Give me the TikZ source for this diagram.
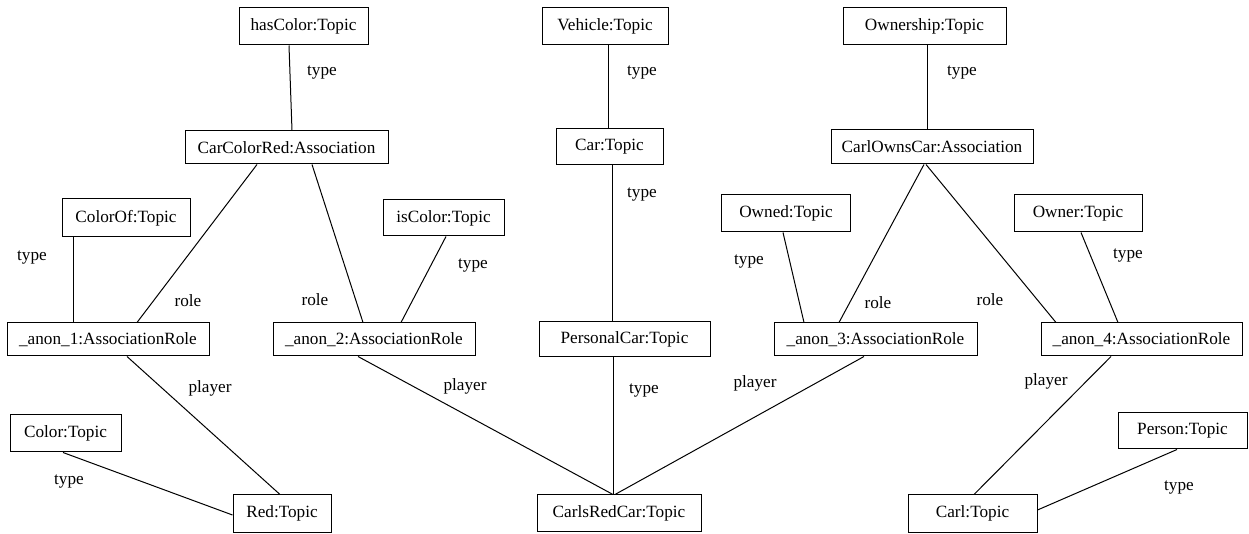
\documentclass[tikz,border=0pt]{standalone}
\usepackage{fontspec}
\setmainfont{Liberation Serif}
\usepackage{tikz}
\usetikzlibrary{calc}

\tikzset{
  obj/.style={draw,rectangle,line width=0.5pt,inner sep=0pt,font=\fontsize{8.6pt}{10pt}\selectfont},
  rel/.style={line width=0.5pt},
  lbl/.style={inner sep=0pt,yshift=-1.5pt,font=\fontsize{8.6pt}{10pt}\selectfont}
}

\begin{document}
\begin{tikzpicture}[x=0.5pt,y=-0.5pt]
\useasboundingbox (0,0) rectangle (1249,534);
% topics and associations
\node[obj,minimum width=64.5pt,minimum height=18.5pt] (hasColor) at (303.5,26.5) {hasColor:Topic};
\node[obj,minimum width=63pt,minimum height=18.5pt] (vehicle) at (605,26.5) {Vehicle:Topic};
\node[obj,minimum width=81.5pt,minimum height=18.5pt] (ownership) at (924.5,26.5) {Ownership:Topic};
\node[obj,minimum width=101.5pt,minimum height=16.5pt] (carColorRed) at (286.5,147.5) {CarColorRed:Association};
\node[obj,minimum width=53.5pt,minimum height=18pt] (car) at (609.5,147) {Car:Topic};
\node[obj,minimum width=101pt,minimum height=17pt] (carlOwnsCar) at (932,147) {CarlOwnsCar:Association};
\node[obj,minimum width=64pt,minimum height=19pt] (colorOf) at (126,218) {ColorOf:Topic};
\node[obj,minimum width=60.5pt,minimum height=18pt] (isColor) at (443.5,218) {isColor:Topic};
\node[obj,minimum width=64.5pt,minimum height=18.5pt] (owned) at (786,213.5) {Owned:Topic};
\node[obj,minimum width=64pt,minimum height=18.5pt] (owner) at (1078,213.5) {Owner:Topic};
% association roles
\node[obj,minimum width=101pt,minimum height=16.5pt] (anon1) at (108,339.5) {\_anon\_1:AssociationRole};
\node[obj,minimum width=101pt,minimum height=16.5pt] (anon2) at (374,339.5) {\_anon\_2:AssociationRole};
\node[obj,minimum width=85.5pt,minimum height=17.5pt] (personalCar) at (624.5,339.5) {PersonalCar:Topic};
\node[obj,minimum width=101.5pt,minimum height=16.5pt] (anon3) at (875.5,339.5) {\_anon\_3:AssociationRole};
\node[obj,minimum width=100.5pt,minimum height=16.5pt] (anon4) at (1141.5,339.5) {\_anon\_4:AssociationRole};
% players
\node[obj,minimum width=55.5pt,minimum height=18.5pt] (color) at (65.5,433.5) {Color:Topic};
\node[obj,minimum width=49pt,minimum height=18.5pt] (red) at (282,513.5) {Red:Topic};
\node[obj,minimum width=82pt,minimum height=18pt] (carlsRedCar) at (619,513) {CarlsRedCar:Topic};
\node[obj,minimum width=64.5pt,minimum height=18.5pt] (carl) at (972.5,513.5) {Carl:Topic};
\node[obj,minimum width=64.5pt,minimum height=18pt] (person) at (1182.5,431) {Person:Topic};

% links
\draw[rel] ($(hasColor.south)+(-14.5,0)$) -- ($(carColorRed.north)+(5.5,0)$);
\draw[rel] ($(vehicle.south)+(3,0)$) -- ($(car.north)+(-1.5,0)$);
\draw[rel] ($(ownership.south)+(2.5,0)$) -- ($(carlOwnsCar.north)+(-5,0)$);
\draw[rel] ($(carColorRed.south)+(-29.5,0)$) -- ($(anon1.north)+(29,0)$);
\draw[rel] ($(carColorRed.south)+(25.5,0)$) -- ($(anon2.north)+(-11,0)$);
\draw[rel] ($(colorOf.south)+(-53,0)$) -- ($(anon1.north)+(-35,0)$);
\draw[rel] ($(isColor.south)+(2.5,0)$) -- ($(anon2.north)+(27,0)$);
\draw[rel] ($(car.south)+(2.5,0)$) -- ($(personalCar.north)+(-12.5,0)$);
\draw[rel] ($(owned.south)+(-3,0)$) -- ($(anon3.north)+(-71.5,0)$);
\draw[rel] ($(carlOwnsCar.south)+(-8,0)$) -- ($(anon3.north)+(-36.5,0)$);
\draw[rel] ($(carlOwnsCar.south)+(-6,0)$) -- ($(anon4.north)+(-85.5,0)$);
\draw[rel] ($(owner.south)+(3,0)$) -- ($(anon4.north)+(-23.5,0)$);
\draw[rel] ($(anon1.south)+(19,0)$) -- ($(red.north)+(-2,0)$);
\draw[rel] ($(anon2.south)+(-16,0)$) -- ($(carlsRedCar.north)+(-6,0)$);
\draw[rel] ($(personalCar.south)+(-11.5,0)$) -- ($(carlsRedCar.north)+(-6,0)$);
\draw[rel] ($(anon3.south)+(-11.5,0)$) -- ($(carlsRedCar.north)+(-4,0)$);
\draw[rel] ($(anon4.south)+(-30.5,0)$) -- ($(carl.north)+(1.5,0)$);
\draw[rel] ($(person.south)+(-5.5,0)$) -- ($(carl.east)+(0,-3.5)$);
\draw[rel] ($(color.south)+(-2.5,0)$) -- ($(red.west)+(0,1.5)$);

% link labels
\node[lbl] (t1) at (322,70) {type};
\node[lbl] (t2) at (642,70) {type};
\node[lbl] (t3) at (962,70) {type};
\node[lbl] (r1) at (188,298) {role};
\node[lbl] (r2) at (315,297) {role};
\node[lbl] (t4) at (32,255) {type};
\node[lbl] (t5) at (473,263) {type};
\node[lbl] (t6) at (642,192) {type};
\node[lbl] (t7) at (749,259) {type};
\node[lbl] (r3) at (878,300) {role};
\node[lbl] (r4) at (990,297) {role};
\node[lbl] (t8) at (1128,253) {type};
\node[lbl] (p1) at (210,385) {player};
\node[lbl] (p2) at (465,383) {player};
\node[lbl] (t9) at (644,388) {type};
\node[lbl] (p3) at (755,380) {player};
\node[lbl] (p4) at (1046,378) {player};
\node[lbl] (t10) at (1179,485) {type};
\node[lbl] (t11) at (69,479) {type};
\end{tikzpicture}
\end{document}
